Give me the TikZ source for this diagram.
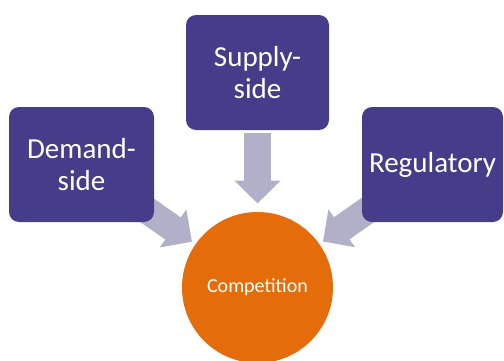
\documentclass[tikz,border=0pt]{standalone}
\usepackage{fontspec}
\setmainfont{Carlito}
\usepackage{tikz}
\usetikzlibrary{arrows.meta,backgrounds}

\definecolor{boxpurple}{RGB}{69,61,137}
\definecolor{arrowgrey}{RGB}{177,176,200}
\definecolor{circorange}{RGB}{228,108,10}

\tikzset{
  factorbox/.style={fill=boxpurple,rounded corners=10pt,text=white,align=center,
    font=\fontsize{29}{32.5}\selectfont,inner sep=2pt},
  feedarrow/.style={draw=arrowgrey,line width=27pt,-{Triangle[width=45pt,length=23pt]}}
}

\begin{document}
\begin{tikzpicture}[x=1pt,y=1pt]
    \useasboundingbox (0,0) rectangle (504,360);

    \node (comp) at (257.5,72.5) [circle,fill=circorange,minimum size=151pt,text=white,font=\fontsize{20}{24}\selectfont] {Competition};

    \node (demand) at (81.5,195.5) [factorbox,minimum width=145pt,minimum height=115pt] {Demand-\\side};
    \node (supply) at (257.5,287.5) [factorbox,minimum width=143pt,minimum height=115pt] {Supply-\\side};
    \node (regul) at (432.5,195.5) [factorbox,minimum width=141pt,minimum height=115pt] {Regulatory};

      \begin{scope}[on background layer]
      \draw[feedarrow,shorten <=70pt,shorten >=80pt] (demand.center)--(comp.center);
      \draw[feedarrow,shorten <=60pt,shorten >=84pt] (supply.center)--(comp.center);
      \draw[feedarrow,shorten <=70pt,shorten >=80pt] (regul.center)--(comp.center);
      \end{scope}

  \end{tikzpicture}
\end{document}
